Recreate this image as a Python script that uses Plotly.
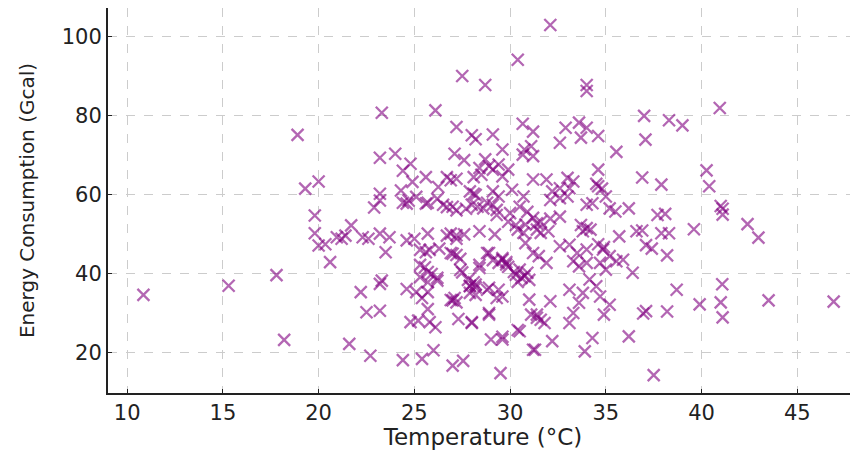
import plotly.graph_objects as go

points = [
    (10.85,34.7),(15.3,37.0),(17.8,39.7),(18.2,23.3),(18.9,75.2),
    (19.3,61.6),(20.0,63.4),(19.8,54.8),(19.8,50.3),(20.0,47.2),(20.35,47.5),(20.6,43.0),(20.95,49.3),(21.2,48.9),(21.4,49.7),(21.7,52.3),(22.3,49.3),(22.6,48.9),(23.2,50.2),(23.7,49.3),(23.5,45.5),(23.2,60.3),(23.2,58.6),(22.9,56.8),(23.3,80.8),(23.2,69.4),(24.0,70.4),(24.4,66.1),(24.8,67.9),(24.9,63.3),(24.3,61.1),(24.7,58.6),(24.6,57.8),(26.1,81.4),(27.2,77.2),(28.0,75.1),(27.1,70.4),(27.6,68.8),(25.6,64.5),(26.25,62.0),(26.7,64.5),(26.9,63.7),(27.2,64.1),(28.1,64.5),(25.1,59.5),(25.6,57.8),(26.2,59.0),(26.7,56.9),(27.2,56.1),(27.7,56.5),(28.1,60.3),(24.6,48.5),(25.0,48.9),(25.7,50.2),(26.7,49.7),(26.9,50.2),(27.2,48.9),(25.6,45.5),(26.3,46.4),(27.0,45.1),(27.4,43.8),(25.55,41.7),(25.9,40.0),(25.7,37.9),(25.3,39.2),(26.2,38.3),(24.6,36.2),(25.1,35.4),(23.3,38.3),(23.2,37.5),(22.2,35.4),(22.5,30.3),(23.2,30.7),(21.6,22.3),(22.7,19.3),(24.4,18.2),(25.4,18.5),(26.0,20.7),(27.0,16.8),(27.55,18.0),(25.7,31.1),(25.8,27.8),(26.1,26.5),(24.8,27.8),(25.2,28.2),(27.0,33.3),(27.2,32.8),(27.3,28.6),(28.0,27.8),(27.5,40.4),(28.1,37.9),(28.2,36.6),(27.9,37.0),
    (27.5,90.1),(28.7,87.8),(30.4,94.2),(32.1,103.0),(34.0,87.8),(34.0,86.3),
    (30.66,78.0),(31.2,76.0),(28.2,74.1),(29.1,75.3),(32.6,73.2),(32.9,77.0),(33.6,78.3),(34.0,77.0),(33.7,74.5),(34.6,74.9),(35.55,70.9),(29.6,71.5),(30.75,71.5),(31.1,72.3),(31.2,69.8),(30.66,70.2),(28.7,69.0),(28.9,67.3),(28.4,66.8),(29.1,66.4),(29.4,67.7),(29.9,66.4),(28.5,65.1),(29.6,64.7),(31.2,63.9),(31.9,63.9),(33.0,64.3),(33.3,63.4),(32.6,61.7),(34.6,66.4),(34.6,62.2),(34.8,61.6),(34.5,62.8),(36.9,64.4),(28.2,60.0),(29.1,60.9),(29.4,59.6),(30.1,61.3),(30.7,59.6),(32.2,60.9),(32.1,58.7),(32.6,59.2),(33.0,59.6),(33.1,61.7),(34.0,57.5),(34.3,57.9),(35.0,59.6),(35.2,56.6),(35.5,55.8),(36.2,56.6),(27.9,60.9),(28.0,57.5),(28.6,56.6),(29.1,57.5),(29.3,54.9),(29.9,53.2),(30.3,52.4),(31.4,52.8),(31.6,53.2),(32.1,54.0),(32.6,54.5),(33.7,52.4),(34.0,51.6),
    (37.0,80.0),(38.3,78.9),(39.0,77.6),(40.95,82.0),(37.07,74.0),(37.9,62.6),(40.26,66.2),(40.4,62.2),(41.0,57.2),(41.1,56.5),(41.1,55.0),(42.4,52.6),(42.97,49.2),(37.7,54.9),(38.1,55.2),(36.9,51.0),(37.9,50.3),(38.3,50.3),(37.1,47.3),(37.4,46.4),(38.2,44.7),(39.6,51.3),(38.7,36.0),(41.08,37.4),(41.0,32.8),(39.9,32.3),(41.1,29.0),(43.5,33.3),(46.9,33.0),(37.1,30.6),(38.2,30.5),(37.5,14.4),
    (28.4,50.8),(29.2,50.0),(30.4,51.2),(30.7,50.4),(31.4,51.2),(31.6,50.4),(32.0,50.8),(33.8,50.8),(34.2,51.2),(35.7,49.5),(36.6,50.8),(28.9,45.3),(29.6,43.6),(29.8,42.4),(29.4,42.8),(30.5,41.1),(30.75,39.4),(30.9,40.3),(30.3,39.8),(28.4,41.5),(30.8,47.8),(31.2,45.3),(31.5,44.5),(31.9,42.8),(32.6,47.0),(33.1,47.4),(33.5,45.3),(34.0,46.2),(33.3,43.2),(33.6,41.9),(34.0,42.8),(34.85,46.2),(35.2,44.5),(35.55,43.2),(35.9,43.6),(36.4,40.3),(34.7,42.8),(35.0,41.1),(34.15,38.6),(34.5,36.9),(33.8,35.2),(33.1,36.0),(33.6,32.7),(33.3,30.1),(33.1,27.6),(34.7,34.3),(35.2,32.2),(34.9,29.7),(36.95,30.0),(27.9,36.9),(28.2,37.3),(28.9,36.5),(29.4,36.0),(29.3,33.9),(29.6,34.3),(28.0,27.6),(28.9,29.7),(29.0,23.4),(29.6,23.4),(30.5,25.5),(29.5,14.9),(31.2,20.8),(32.2,23.0),(33.9,20.4),(34.3,23.8),(36.2,24.2),(31.0,33.5),(31.4,29.7),(31.6,28.4),(31.8,27.6),(32.1,33.1),(31.1,29.7),(31.4,28.9),
    (29.8,43.0),(30.2,40.5),(30.6,39.0),(31.0,38.5),(29.9,41.8),(30.4,38.0),(30.8,52.5),(27.2,49.8),(27.6,50.0),(34.6,47.5),(34.9,46.8),
    (24.4,58.0),(25.7,58.0),(26.5,57.5),(27.0,57.0),(28.3,57.0),(28.8,58.0),(29.3,56.2),(30.0,55.4),(30.5,57.0),(30.9,55.7),(31.2,54.2),
    (25.3,46.1),(25.8,46.1),(26.9,45.3),(27.2,44.8),(25.3,42.3),(25.7,40.5),(26.2,39.0),(27.4,41.0),(27.8,38.5),(28.4,42.3),(28.8,45.3),(29.1,43.5),(29.6,44.0),
    (25.4,33.9),(25.7,35.4),(26.9,33.4),(27.1,33.9),(27.9,35.2),(28.2,34.7),(28.8,36.0),(28.9,30.1),(29.6,24.1),(30.4,25.8),(31.3,20.8),
]

temperature = [p[0] for p in points]
energy = [p[1] for p in points]

x_ticks = [10, 15, 20, 25, 30, 35, 40, 45]
y_ticks = [20, 40, 60, 80, 100]

fig = go.Figure()
fig.add_trace(go.Scatter(
    x=temperature, y=energy, mode="markers",
    marker=dict(symbol="x-thin", size=12,
                line=dict(width=2.3, color="rgba(128,0,128,0.6)")),
    hoverinfo="skip",
))

axis_common = dict(
    showline=True, linecolor="#222222", linewidth=2, mirror=False,
    showgrid=True, gridcolor="#cccccc", gridwidth=1, griddash="dash",
    zeroline=False, ticks="inside", ticklen=4, tickcolor="#222222",
    tickfont=dict(family="DejaVu Sans", size=21, color="#222222"),
)

fig.update_xaxes(
    range=[9.0, 48.17], tickvals=x_ticks, ticktext=[str(v) for v in x_ticks],
    title=dict(text="Temperature (°C)", font=dict(family="DejaVu Sans", size=23, color="#222222"), standoff=6),
    **axis_common,
)
fig.update_yaxes(
    range=[9.87, 107.3], tickvals=y_ticks, ticktext=[str(v) for v in y_ticks],
    title=dict(text="Energy Consumption (Gcal)", font=dict(family="DejaVu Sans", size=20, color="#222222"), standoff=22),
    **axis_common,
)

fig.update_layout(
    width=850, height=442,
    margin=dict(l=100, r=0, t=0, b=57, autoexpand=False),
    paper_bgcolor="white", plot_bgcolor="white",
    showlegend=False,
)

fig.write_html("out.html")
